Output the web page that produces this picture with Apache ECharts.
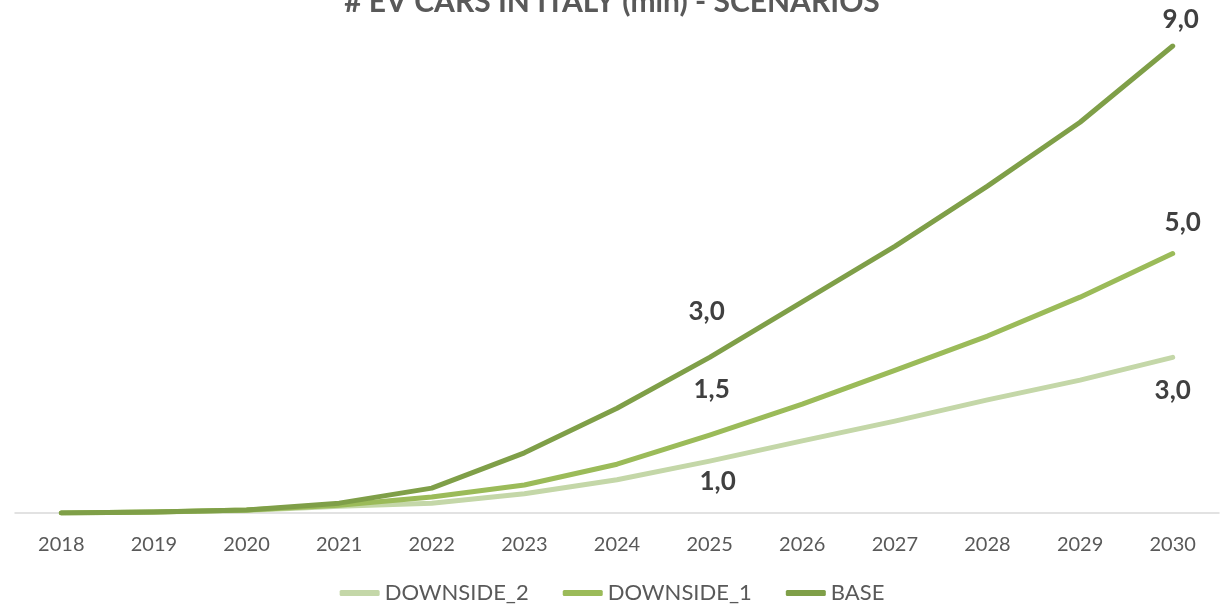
<!DOCTYPE html>
<html>
<head>
<meta charset="utf-8">
<script src="https://cdn.jsdelivr.net/npm/echarts@6/dist/echarts.min.js"></script>
<style>
  html, body { margin: 0; padding: 0; background: #fff; }
  #chart { width: 1224px; height: 610px; }
</style>
</head>
<body>
<div id="chart"></div>
<script>
const years = ['2018', '2019', '2020', '2021', '2022', '2023', '2024', '2025', '2026', '2027', '2028', '2029', '2030']
const downside2 = [0.0, 0.02, 0.05, 0.13, 0.19, 0.37, 0.64, 1.0, 1.39, 1.77, 2.18, 2.56, 3.0]
const downside1 = [0.0, 0.02, 0.06, 0.15, 0.31, 0.54, 0.94, 1.5, 2.1, 2.75, 3.41, 4.16, 5.0]
const base = [0.0, 0.02, 0.06, 0.19, 0.48, 1.16, 2.02, 3.0, 4.07, 5.14, 6.3, 7.53, 9.0]

const chart = echarts.init(document.getElementById('chart'))

// labels: { index: [position, distance, xOffset] }
const withLabels = (values, labels) =>
  values.map((v, i) => labels[i]
    ? {
        value: v,
        label: { show: true, position: labels[i][0], distance: labels[i][1], offset: [labels[i][2], 0] },
      }
    : v)

const line = (name, values, color, labels) => ({
  name,
  type: 'line',
  data: withLabels(values, labels),
  symbol: 'circle',
  symbolSize: 0,
  showSymbol: true,
  lineStyle: { color, width: 5, cap: 'round', join: 'round' },
  itemStyle: { color },
  label: {
    show: false,
    formatter: (p) => p.value.toFixed(1).replace('.', ','),
    color: '#404040',
    fontFamily: 'Lato',
    fontWeight: 'bold',
    fontSize: 26,
  },
})

chart.setOption({
  animation: false,
  title: {
    text: '# EV CARS IN ITALY (mln) - SCENARIOS',
    left: 'center',
    top: -18,
    textStyle: { color: '#595959', fontFamily: 'Lato', fontWeight: 'bold', fontSize: 30 },
  },
  legend: {
    bottom: 1,
    left: 'center',
    itemWidth: 40,
    itemHeight: 6,
    itemGap: 34,
    icon: 'roundRect',
    textStyle: { color: '#595959', fontFamily: 'Lato', fontSize: 22 },
    data: ['DOWNSIDE_2', 'DOWNSIDE_1', 'BASE'],
  },
  grid: { left: 15, right: 5, top: 46, bottom: 97 },
  xAxis: {
    type: 'category',
    data: years,
    boundaryGap: true,
    axisLine: { lineStyle: { color: '#d9d9d9', width: 1.5 } },
    axisTick: { show: false },
    axisLabel: { color: '#595959', fontFamily: 'Lato', fontSize: 20, margin: 22 },
  },
  yAxis: {
    type: 'value',
    min: 0,
    max: 9,
    show: false,
    splitLine: { show: false },
  },
  series: [
    line('DOWNSIDE_2', downside2, '#c4d7a8', { 7: ['bottom', 7, 8], 12: ['bottom', 20, 0] }),
    line('DOWNSIDE_1', downside1, '#9bbb59', { 7: ['top', 33, 2], 12: ['top', 18, 10] }),
    line('BASE', base, '#7f9f48', { 7: ['top', 33, -3], 12: ['top', 13, 8] }),
  ],
})
</script>
</body>
</html>
